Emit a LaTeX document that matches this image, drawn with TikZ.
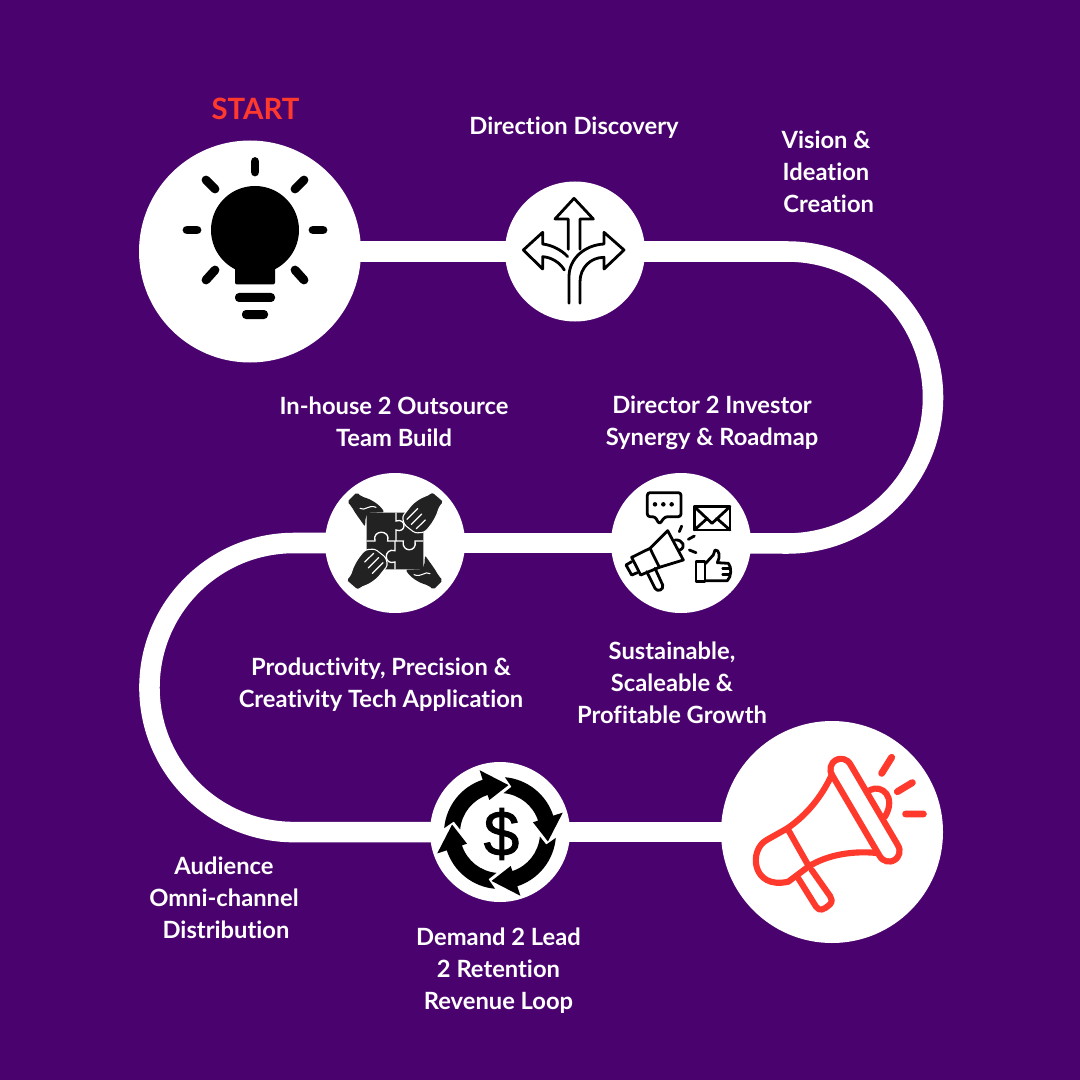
\documentclass[tikz,border=0pt]{standalone}
\usepackage{fontspec}
\setmainfont{Lato}[Ligatures=CommonOff]
\newfontfamily\dollarfont[FakeBold=1.5]{Liberation Sans}
\usetikzlibrary{backgrounds}
\definecolor{bgpurple}{HTML}{4A036E}
\definecolor{hotred}{HTML}{FF3A2D}
\definecolor{inkdark}{HTML}{222222}
\tikzset{
  disc/.style={circle,fill=white,inner sep=0pt,minimum size=#1*0.75pt},
  lab/.style={text=white,font=\fontsize{17.8}{24}\selectfont\bfseries,align=center,inner sep=0pt},
  trail/.style={draw=white,line width=15.4pt},
  icon/.style={shift={(#1)},x=.25pt,y=-.25pt},
  thin ink/.style={draw=black,line width=2.1pt,line join=round,line cap=round},
  ray/.style={draw=black,line width=6.6pt,line cap=round},
  redline/.style={draw=hotred,line width=4.6pt,line join=round,line cap=round},
}
\newcommand{\handflat}{
  \fill[inkdark,rounded corners=1.5pt] (97,125)--(125,97)--(140,110) .. controls (170,118) and (195,135) .. (208,157)--(160,158)--(152,170)--(150,200) .. controls (135,178) and (122,162) .. (110,140)--cycle;
  \draw[white,line width=.8pt,line cap=round] (135,145) .. controls (150,155) and (160,132) .. (183,142);
}
\newcommand{\handfingers}{
  \fill[inkdark,draw=white,line width=.8pt,rounded corners=2pt] (352,95)--(387,125)--(372,143) .. controls (365,170) and (350,195) .. (328,217)--(300,219)--(268,194)--(262,170)--(283,143) .. controls (298,125) and (318,112) .. (338,106)--cycle;
  \draw[white,line width=.9pt,line cap=round] (276,178)--(308,146) (289,193)--(320,162) (304,206)--(331,180);
}
\newcommand{\looparrow}{
  \fill[black] (85:168) arc[start angle=85,end angle=18,radius=42pt]--(18:198)--(-10:146)--(18:104)--(18:120) arc[start angle=18,end angle=85,radius=30pt]--(76:143)--cycle;
}
\begin{document}
\begin{tikzpicture}[x=.75pt,y=-.75pt]
\useasboundingbox (0,0) rectangle (1080,1080);
% stations
\node[disc=222] (bulb) at (250,251.5) {};
\node[disc=140] (paths) at (575,251.5) {};
\node[disc=140] (promo) at (681,543) {};
\node[disc=140] (team) at (395,543) {};
\node[disc=140] (money) at (500,832) {};
\node[disc=222] (horn) at (832,832) {};
\coordinate (bendA) at (787,251.5);
\coordinate (bendB) at (294,543);
\begin{scope}[on background layer]
  \fill[bgpurple] (0,0) rectangle (1080,1080);
  \draw[trail] (bulb.center)--(paths.center);
  \draw[trail] (paths.center)--(bendA) arc[start angle=90,end angle=-90,radius=109.5pt]--(promo.center);
  \draw[trail] (promo.center)--(team.center);
  \draw[trail] (team.center)--(bendB) arc[start angle=90,end angle=270,radius=108.4pt]--(money.center);
  \draw[trail] (money.center)--(horn.center);
\end{scope}
% bulb
\fill[black] (255,230) circle[radius=33pt];
\fill[black,rounded corners=1.5pt] (235,255) rectangle (275,284.5);
\fill[black,rounded corners=3pt] (235,293) rectangle (275,302);
\fill[black,rounded corners=3pt] (242,310) rectangle (268,319);
\draw[ray] (255,161.5)--(255,172);
\draw[ray] (187,230)--(197,230);
\draw[ray] (313,230)--(323,230);
\draw[ray] (206,180)--(215,189);
\draw[ray] (304,180)--(295,189);
\draw[ray] (206,280)--(215,270);
\draw[ray] (304,280)--(295,270);
% forking arrows
\begin{scope}[icon={495,170}]
  \draw[thin ink] (220,238)--(220,147)--(180,147)--(237,85)--(295,147)--(255,147)--(255,238);
  \draw[thin ink] (218,260) .. controls (200,240) and (170,225) .. (143,222)--(143,187)--(85,240)--(143,297)--(143,260) .. controls (170,262) and (195,278) .. (208,300);
  \draw[thin ink] (222,400)--(222,320) .. controls (222,265) and (270,225) .. (327,222)--(327,187)--(387,240)--(327,297)--(327,262) .. controls (285,262) and (255,295) .. (255,335)--(255,400);
\end{scope}
% puzzle and hands
\begin{scope}[icon={315,460}]
  \fill[inkdark,rounded corners=1.5pt] (155,158) rectangle (325,328);
  \draw[white,line width=1pt] (243,158)--(243,183) .. controls (275,172) and (275,222) .. (243,210)--(243,243);
  \draw[white,line width=1pt] (155,243)--(180,243) .. controls (170,208) and (228,208) .. (218,243)--(243,243);
  \draw[white,line width=1pt] (243,243)--(265,243) .. controls (258,278) and (308,278) .. (300,243)--(325,243);
  \draw[white,line width=1pt] (240,243)--(240,272) .. controls (205,262) and (205,318) .. (240,306)--(240,328);
  \handflat
  \handfingers
  \begin{scope}[rotate around={180:(240,243)}]
    \handflat
    \handfingers
  \end{scope}
\end{scope}
% promo collage
\begin{scope}[icon={600,460}]
  \draw[thin ink,rounded corners=2pt] (165,170)--(142,170)--(142,98)--(243,98)--(243,170)--(195,170)--(178,193)--cycle;
  \fill[black] (165,133) circle[radius=1.7pt] (190,133) circle[radius=1.7pt] (215,133) circle[radius=1.7pt];
  \draw[thin ink] (283,140) rectangle (390,210);
  \draw[thin ink] (283,140)--(336,190)--(390,140) (283,210)--(322,175) (390,210)--(350,175);
  \draw[thin ink] (150,265)--(203,212)--(250,300)--(178,322)--cycle;
  \draw[thin ink] (150,265)--(95,292)--(122,345)--(178,322);
  \draw[thin ink] (95,305)--(78,315)--(95,345)--(112,338);
  \draw[thin ink] (140,335)--(165,385) .. controls (172,397) and (192,390) .. (188,375)--(165,325);
  \draw[thin ink] (225,240) .. controls (250,238) and (258,262) .. (240,270);
  \draw[thin ink] (238,215)--(245,198) (265,238)--(283,228) (268,270)--(288,278);
  \draw[thin ink] (288,305) rectangle (315,365);
  \draw[thin ink] (315,312)--(340,285)--(345,270) .. controls (358,268) and (362,290) .. (352,308)--(385,310) .. controls (395,320) and (395,350) .. (382,362)--(315,362);
  \draw[thin ink] (368,326)--(392,326) (368,344)--(390,344);
\end{scope}
% money loop
\begin{scope}[shift={(500,833)},x=.25pt,y=.25pt]
  \looparrow
  \begin{scope}[rotate=-90]\looparrow\end{scope}
  \begin{scope}[rotate=180]\looparrow\end{scope}
  \begin{scope}[rotate=90]\looparrow\end{scope}
\end{scope}
\node[inner sep=0pt,text=black] (dollarsign) at (501.5,834) {\dollarfont\fontsize{48}{48}\selectfont\$};
% red megaphone
\begin{scope}[icon={710,710}]
  \draw[redline] (480,240) .. controls (515,222) and (560,260) .. (525,320);
  \draw[redline] (365,195) .. controls (335,260) and (290,315) .. (232,355)--(170,390) .. controls (115,420) and (125,540) .. (235,515)--(295,470) .. controls (350,435) and (430,420) .. (510,430);
  \draw[redline] (232,355)--(297,470);
  \draw[redline] (265,505)--(318,590) .. controls (330,605) and (340,600) .. (360,583) .. controls (368,575) and (365,565) .. (360,558)--(305,480);
  \draw[draw=hotred,line width=20.5pt,line cap=round] (393,178)--(537,423);
  \draw[draw=white,line width=11pt,line cap=round] (393,178)--(537,423);
  \draw[redline,line width=5.2pt] (515,190)--(545,142) (562,245)--(607,218) (587,312)--(640,312);
\end{scope}
% labels
\node[lab,text=hotred,font=\fontsize{22}{24}\selectfont\bfseries] (startlab) at (255.5,109) {START};
\node[lab] (l1) at (574,128) {Direction Discovery};
\node[lab] (l2) at (826,171.5) {Vision \&\\Ideation\\\hspace*{4pt}Creation};
\node[lab] (l3) at (394,422) {In-house 2 Outsource\\Team Build};
\node[lab] (l4) at (712,423) {Director 2 Investor\\Synergy \& Roadmap};
\node[lab] (l5) at (381,684.5) {Productivity, Precision \&\\Creativity Tech Application};
\node[lab] (l6) at (672,682.5) {Sustainable,\\Scaleable \&\\Profitable Growth};
\node[lab] (l7) at (224,897.5) {Audience\\Omni-channel\\\hspace*{3pt}Distribution};
\node[lab] (l8) at (498.5,971) {Demand 2 Lead\\2 Retention\\Revenue Loop};
\end{tikzpicture}
\end{document}
